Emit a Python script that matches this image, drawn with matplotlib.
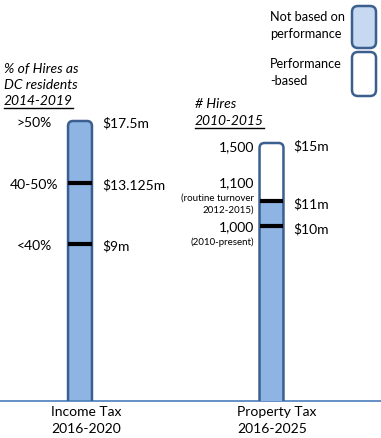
import matplotlib
matplotlib.use("Agg")
import matplotlib.pyplot as plt
from matplotlib.patches import FancyBboxPatch, Rectangle

plt.rcParams['font.family'] = ['Lato', 'DejaVu Sans']

# schematic chart: bar heights are drawing levels
categories = ["Income Tax\n2016-2020", "Property Tax\n2016-2025"]
bar_tops = [280, 258]
income_levels = [280, 218, 157]
income_money = ["$17.5m", "$13.125m", "$9m"]
income_share = [">50%", "40-50%", "<40%"]
property_levels = [258, 200, 175]
property_money = ["$15m", "$11m", "$10m"]
property_split = 200          # top of the "not based on performance" part
income_marks = [218, 157]
property_marks = [200, 175]

BLUE = "#8EB4E3"
LIGHT = "#C6D9F1"
EDGE = "#3B5F8E"
AXIS = "#4A7EBB"

W, H = 381, 438
fig = plt.figure(figsize=(W / 100, H / 100), dpi=100)
ax = fig.add_axes([0, 37 / H, 1, 300 / H])
ax.set_xlim(-80 / 191.5, (W - 80) / 191.5)
ax.set_ylim(0, 300)
for s in ["top", "left", "right"]:
    ax.spines[s].set_visible(False)
ax.spines["bottom"].set_color(AXIS)
ax.spines["bottom"].set_linewidth(1.2)
ax.set_xticks([])
ax.set_yticks([])

bw = 0.125
asp = 191.5
rs = 5 / 191.5


def rounded(x, top, face):
    p = FancyBboxPatch((x - bw / 2, -20), bw, top + 20,
                       boxstyle=f"round,pad=0,rounding_size={rs}",
                       mutation_aspect=asp, fc=face, ec="none", zorder=2)
    ax.add_patch(p)
    return p


def outline(x, top):
    p = FancyBboxPatch((x - bw / 2, -20), bw, top + 20,
                       boxstyle=f"round,pad=0,rounding_size={rs}",
                       mutation_aspect=asp, fc="none", ec=EDGE, lw=1.8, zorder=4)
    ax.add_patch(p)


# income tax bar
rounded(0, bar_tops[0], BLUE)
outline(0, bar_tops[0])
for m in income_marks:
    ax.plot([-bw / 2, bw / 2], [m, m], color="black", lw=3, solid_capstyle="butt", zorder=5)

# property tax bar
rounded(1, bar_tops[1], "white")
ax.add_patch(Rectangle((1 - bw / 2, -20), bw, property_split + 20, fc=BLUE, ec="none", zorder=3))
outline(1, bar_tops[1])
for m in property_marks:
    ax.plot([1 - bw / 2, 1 + bw / 2], [m, m], color="black", lw=3, solid_capstyle="butt", zorder=5)

fs = 10
for lv, money, share in zip(income_levels, income_money, income_share):
    ax.text(0.115, lv - 2, money, fontsize=fs, va="center", ha="left")
    ax.text(-0.24, lv - 2, share, fontsize=fs, va="center", ha="center")
for lv, money in zip(property_levels, property_money):
    ax.text(1.112, lv - 3, money, fontsize=fs, va="center", ha="left")

xr = 1 - 17.5 / 191.5
ax.text(xr, 254, "1,500", fontsize=fs, va="center", ha="right")
ax.text(xr, 218, "1,100", fontsize=fs, va="center", ha="right")
ax.text(xr, 203, "(routine turnover", fontsize=7, va="center", ha="right")
ax.text(xr, 191, "2012-2015)", fontsize=7, va="center", ha="right")
ax.text(xr, 174, "1,000", fontsize=fs, va="center", ha="right")
ax.text(xr, 159, "(2010-present)", fontsize=7, va="center", ha="right")

# category labels under the axis
for i, (c, off) in enumerate(zip(categories, [29, 34.5])):
    ax.text(i - off / 191.5, -5, c, fontsize=fs, va="top", ha="left", linespacing=1.5)


def fy(y):
    return 1 - y / H


# italic headers
fig.text(4 / W, fy(69), "% of Hires as", fontsize=fs, style="italic", va="center")
fig.text(4 / W, fy(85), "DC residents", fontsize=fs, style="italic", va="center")
u1 = fig.text(4 / W, fy(101), "2014-2019", fontsize=fs, style="italic", va="center")
fig.text(195 / W, fy(104), "# Hires", fontsize=fs, style="italic", va="center")
u2 = fig.text(195 / W, fy(121), "2010-2015", fontsize=fs, style="italic", va="center")

# legend
lfs = 9.2
fig.text(270 / W, fy(17), "Not based on", fontsize=lfs, va="center")
fig.text(270 / W, fy(34), "performance", fontsize=lfs, va="center")
fig.text(270 / W, fy(64), "Performance", fontsize=lfs, va="center")
fig.text(270 / W, fy(81), "-based", fontsize=lfs, va="center")
for y0, y1, face in [(6, 48, LIGHT), (52, 96, "white")]:
    fig.patches.append(FancyBboxPatch((352 / W, fy(y1)), 24 / W, (y1 - y0) / H,
                                      boxstyle=f"round,pad=0,rounding_size={6 / W}",
                                      mutation_aspect=W / H, transform=fig.transFigure,
                                      fc=face, ec=EDGE, lw=1.8))

# underline the year ranges
fig.canvas.draw()
r = fig.canvas.get_renderer()
for t in (u1, u2):
    bb = t.get_window_extent(r)
    fig.add_artist(plt.Line2D([bb.x0 / W, bb.x1 / W], [(bb.y0 - 1) / H] * 2,
                              color="black", lw=1, transform=fig.transFigure))

fig.savefig("out.png", dpi=100)
